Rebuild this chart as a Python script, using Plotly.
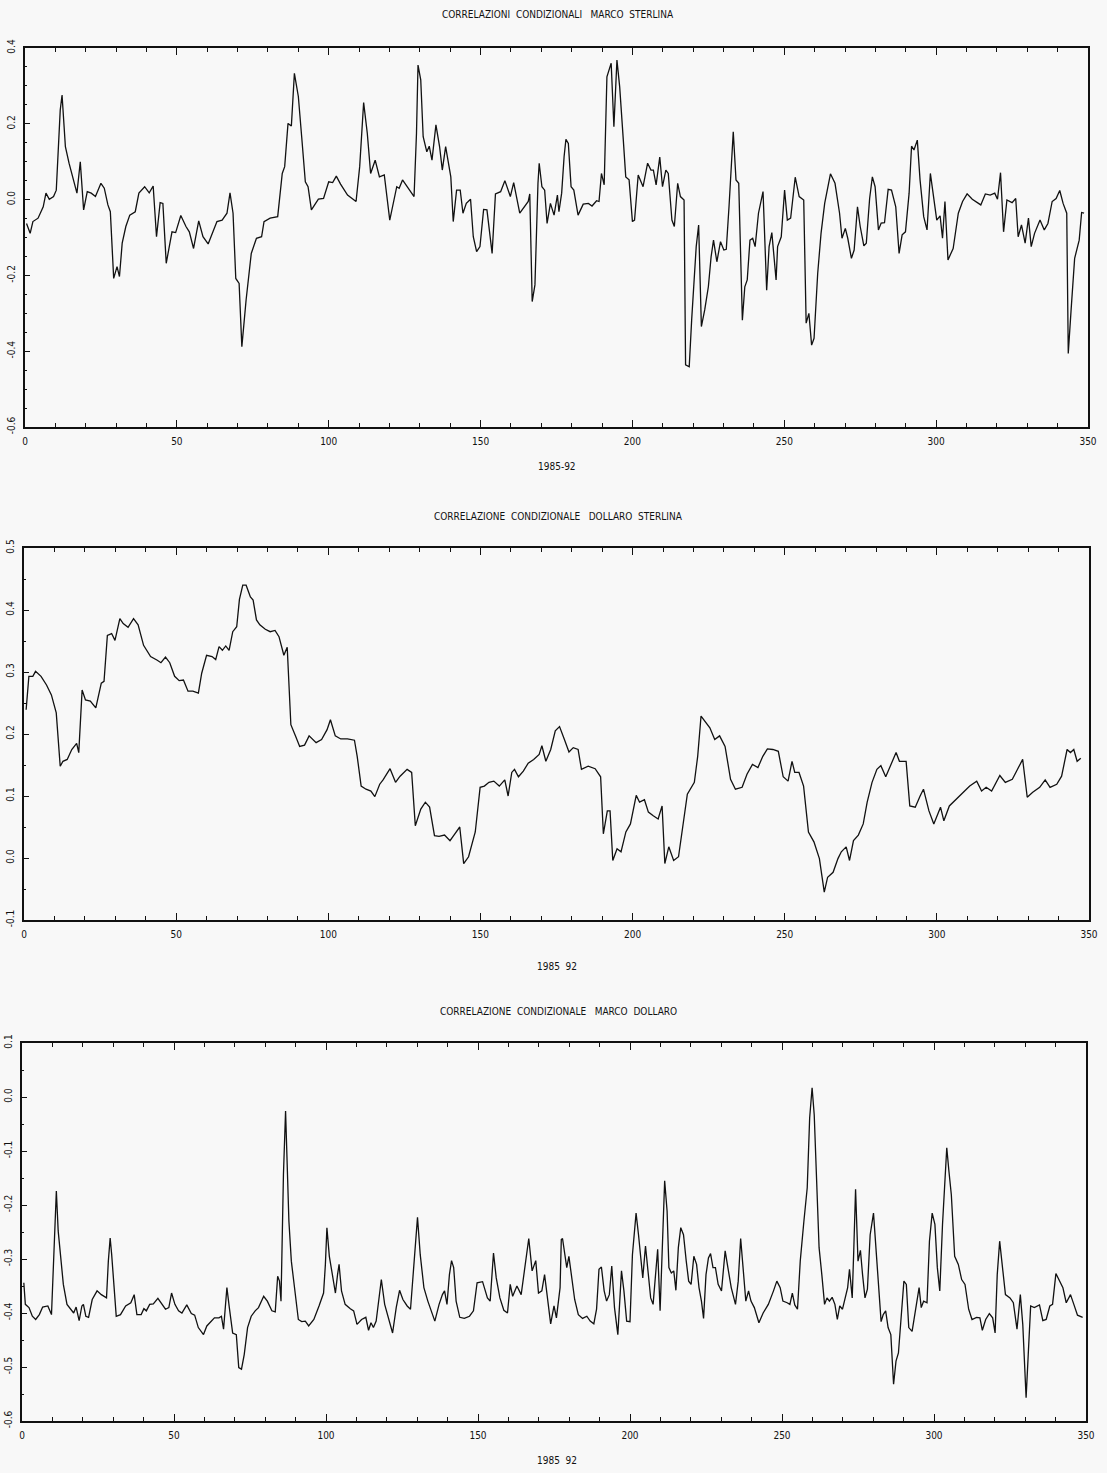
import plotly.graph_objects as go

# ---------------- data ----------------
X_TICKS = [0, 50, 100, 150, 200, 250, 300, 350]
X_TICKTEXT = ["0", "50", "100", "150", "200", "250", "300", "350"]

TITLES = ["CORRELAZIONI  CONDIZIONALI   MARCO  STERLINA",
          "CORRELAZIONE  CONDIZIONALE   DOLLARO  STERLINA",
          "CORRELAZIONE  CONDIZIONALE   MARCO  DOLLARO"]
XLABELS = ["1985-92", "1985  92", "1985  92"]

Y1_TICKS = [0.4, 0.2, 0.0, -0.2, -0.4, -0.6]
Y1_TICKTEXT = ["0.4", "0.2", "0.0", "-0.2", "-0.4", "-0.6"]
Y2_TICKS = [0.5, 0.4, 0.3, 0.2, 0.1, 0.0, -0.1]
Y2_TICKTEXT = ["0.5", "0.4", "0.3", "0.2", "0.1", "0.0", "-0.1"]
Y3_TICKS = [0.1, 0.0, -0.1, -0.2, -0.3, -0.4, -0.5, -0.6]
Y3_TICKTEXT = ["0.1", "0.0", "-0.1", "-0.2", "-0.3", "-0.4", "-0.5", "-0.6"]

# Panel 1: Marco - Sterlina
P1_X = [0.5, 1.7, 2.6, 4.3, 6.0, 6.9, 8.0, 9.4, 10.3, 11.1,
        11.6, 12.2, 12.8, 13.3, 14.5, 15.6, 17.1, 18.2, 19.3, 20.5,
        21.8, 23.2, 25.0, 26.1, 27.3, 28.1, 29.2, 30.3, 31.1, 32.0,
        33.2, 34.5, 36.3, 37.5, 39.4, 40.9, 42.2, 43.3, 44.5, 45.4,
        46.5, 48.4, 49.6, 51.3, 53.0, 54.1, 55.5, 57.2, 58.6, 60.3,
        63.2, 64.9, 66.5, 67.5, 68.5, 69.4, 70.5, 71.4, 72.8, 74.5,
        76.2, 77.9, 78.7, 80.7, 83.2, 84.7, 85.5, 86.6, 87.7, 88.7,
        90.0, 91.1, 92.3, 93.2, 94.3, 96.6, 98.3, 100.0, 101.3, 102.5,
        103.9, 106.2, 109.0, 110.2, 111.5, 112.7, 113.8, 115.3, 116.7, 118.3,
        120.1, 122.4, 123.2, 124.3, 128.1, 128.9, 129.4, 130.3, 131.1, 132.3,
        133.1, 134.0, 135.3, 136.5, 137.4, 138.5, 140.2, 141.0, 142.1, 143.3,
        144.2, 145.3, 146.7, 147.6, 148.7, 149.8, 151.0, 152.1, 153.8, 154.9,
        156.6, 158.0, 159.8, 160.9, 162.9, 165.7, 166.2, 167.0, 167.9, 168.9,
        169.3, 170.2, 171.1, 171.9, 173.0, 174.2, 175.3,
        175.8, 176.7, 177.5, 178.1, 178.9, 179.8, 180.7, 182.1, 183.8, 185.5,
        186.7, 188.2, 189.0, 189.8, 190.7, 191.6, 193.0, 193.9, 194.9, 195.8,
        197.0, 197.8, 198.9, 200.0, 200.7, 201.9, 203.5, 205.0, 206.1, 206.9,
        207.8, 209.0, 209.9, 211.0, 211.8, 213.0, 213.8, 214.9, 215.8, 217.0,
        217.5, 218.7, 219.5, 220.4, 221.0, 221.8, 222.7, 223.8, 225.0, 225.9,
        226.7, 227.8, 229.0, 230.1, 230.9, 231.8, 233.2, 234.1, 235.0, 236.2,
        237.0, 237.8, 238.7, 239.6, 240.4, 241.5, 243.0, 244.2, 245.0, 245.9,
        247.3, 247.8, 249.0, 250.1, 251.0, 252.1, 253.6, 254.9, 256.4, 257.2,
        258.1, 259.0, 259.8, 261.0, 262.1, 263.3, 265.2, 266.7, 268.2, 269.0,
        270.1, 270.9, 272.1, 273.0, 274.1, 275.0, 276.2, 277.0, 278.1, 279.0,
        279.9, 281.0, 281.9, 283.0, 284.2, 285.3, 286.7, 287.8, 288.8, 289.9,
        291.1, 291.9, 292.7, 293.8, 294.7, 295.9, 297.0, 298.1, 299.3, 300.2,
        301.3, 302.1, 302.9, 303.9, 305.6, 307.3, 308.7, 310.2, 311.9, 314.7,
        316.2, 317.8, 319.3, 320.2, 321.2, 322.2, 323.3, 325.0, 326.2, 327.0,
        328.1, 329.3, 330.4, 331.3, 332.4, 334.2, 335.6, 336.8, 338.2, 339.5,
        340.7, 341.8, 343.0, 343.5, 344.5, 345.6, 347.1, 347.9, 348.7]
P1_Y = [-0.063, -0.089, -0.058, -0.049, -0.019, 0.017, 0.001, 0.008, 0.025, 0.184,
        0.236, 0.276, 0.21, 0.14, 0.096, 0.06, 0.017, 0.1, -0.027, 0.021,
        0.017, 0.008, 0.043, 0.03, -0.014, -0.032, -0.208, -0.177, -0.203, -0.115,
        -0.071, -0.041, -0.032, 0.017, 0.034, 0.018, 0.036, -0.098, -0.008, -0.01,
        -0.168, -0.085, -0.087, -0.042, -0.071, -0.085, -0.129, -0.056, -0.098, -0.117,
        -0.058, -0.054, -0.036, 0.018, -0.036, -0.208, -0.221, -0.388, -0.265, -0.142,
        -0.102, -0.098, -0.058, -0.049, -0.045, 0.069, 0.087, 0.201, 0.194, 0.333,
        0.272, 0.166, 0.047, 0.034, -0.027, 0.001, 0.003, 0.047, 0.045, 0.062,
        0.041, 0.012, -0.005, 0.087, 0.256, 0.175, 0.069, 0.104, 0.06, 0.065,
        -0.054, 0.034, 0.03, 0.052, 0.008, 0.175, 0.355, 0.316, 0.166, 0.126,
        0.141, 0.104, 0.197, 0.14, 0.078, 0.14, 0.06, -0.058, 0.025, 0.025,
        -0.036, -0.01, 0.001, -0.098, -0.137, -0.124, -0.026, -0.027, -0.142, 0.015,
        0.021, 0.05, 0.008, 0.045, -0.036, -0.005, 0.015, -0.269, -0.225, 0.043,
        0.096, 0.034, 0.025, -0.063, -0.01, -0.041, 0.012,
        -0.032, 0.017, 0.113, 0.159, 0.148, 0.034, 0.025, -0.041, -0.012, -0.01,
        -0.017, -0.003, -0.005, 0.069, 0.039, 0.324, 0.36, 0.192, 0.368, 0.298,
        0.157, 0.06, 0.052, -0.058, -0.054, 0.065, 0.034, 0.096, 0.078, 0.078,
        0.039, 0.112, 0.034, 0.078, 0.069, -0.054, -0.071, 0.043, 0.008, -0.001,
        -0.436, -0.441, -0.318, -0.212, -0.124, -0.067, -0.335, -0.291, -0.23, -0.151,
        -0.107, -0.164, -0.111, -0.133, -0.131, -0.019, 0.179, 0.052, 0.043, -0.318,
        -0.23, -0.212, -0.107, -0.102, -0.124, -0.036, 0.021, -0.239, -0.124, -0.087,
        -0.212, -0.124, -0.098, 0.025, -0.054, -0.049, 0.059, 0.008, -0.001, -0.326,
        -0.3, -0.384, -0.366, -0.195, -0.089, -0.01, 0.068, 0.043, -0.036, -0.102,
        -0.076, -0.102, -0.155, -0.133, -0.019, -0.071, -0.122, -0.115, 0.003, 0.06,
        0.034, -0.08, -0.062, -0.061, 0.027, 0.025, -0.019, -0.142, -0.093, -0.085,
        0.017, 0.141, 0.131, 0.157, 0.052, -0.045, -0.08, 0.069, -0.001, -0.054,
        -0.043, -0.102, -0.005, -0.159, -0.129, -0.036, -0.005, 0.015, 0.001, -0.014,
        0.015, 0.012, 0.017, 0.001, 0.071, -0.085, -0.001, -0.008, 0.003, -0.098,
        -0.067, -0.115, -0.049, -0.124, -0.089, -0.054, -0.08, -0.063, -0.005, 0.003,
        0.024, -0.01, -0.036, -0.406, -0.283, -0.155, -0.107, -0.034, -0.036]

# Panel 2: Dollaro - Sterlina
P2_X = [0.7, 1.6, 2.9, 3.8, 5.6, 7.4, 9.0, 10.6, 11.9, 12.8,
        14.2, 15.7, 17.3, 18.0, 19.1, 20.2, 21.8, 23.6, 25.4, 26.3,
        27.4, 28.8, 29.9, 31.5, 32.6, 34.2, 36.0, 37.5, 39.3, 41.6,
        43.8, 45.0, 46.5, 47.9, 49.5, 51.0, 52.4, 53.9, 55.5, 57.3,
        58.4, 60.0, 61.8, 63.0, 64.1, 65.2, 66.3, 67.4, 68.6, 69.9,
        70.8, 71.9, 73.0, 74.4, 75.3, 76.4, 77.5, 79.3, 80.9, 82.5,
        83.8, 85.4, 86.5, 87.7, 89.2, 90.6, 92.2, 93.7, 96.0, 97.8,
        99.6, 100.7, 102.3, 104.1, 106.3, 108.6, 109.5, 110.8, 112.4, 114.0,
        115.3, 116.9, 118.0, 120.3, 122.1, 123.6, 125.9, 127.4, 128.6, 130.4,
        131.9, 133.3, 134.9, 136.4, 138.2, 140.0, 141.6, 143.2, 144.5, 146.1,
        148.3, 149.9, 151.3, 152.8, 154.4, 156.2, 158.0, 159.1, 160.3, 161.2,
        162.5, 164.1, 165.7, 167.5, 169.3, 170.2, 171.5, 173.1, 174.6, 176.0,
        177.6, 179.1, 180.5, 182.1, 183.2, 185.4, 187.7, 189.5, 190.4, 191.7,
        192.6, 193.5, 194.9, 196.2, 197.8, 199.3, 201.2, 202.3, 203.9, 205.2,
        206.8, 208.4, 209.7, 210.6, 211.9, 213.5, 215.1, 216.5, 218.0, 220.3,
        221.4, 222.5, 223.6, 225.4, 227.0, 228.6, 230.4, 232.2, 233.8, 236.0,
        237.6, 239.4, 241.2, 242.8, 244.3, 246.1, 247.9, 249.5, 251.1, 252.4,
        253.3, 254.7, 256.2, 257.8, 259.6, 261.4, 263.0, 264.1, 265.9, 267.5,
        268.6, 270.2, 271.3, 272.6, 274.2, 275.8, 277.1, 278.7, 280.3, 281.6,
        283.2, 284.8, 286.6, 287.7, 289.9, 291.1, 292.9, 294.5, 295.6, 297.4,
        299.0, 301.2, 302.3, 304.1, 306.4, 308.6, 310.8, 313.1, 314.7, 316.2,
        318.0, 320.7, 322.5, 324.8, 326.6, 328.2, 329.7, 331.5, 333.8, 335.6,
        337.2, 339.4, 341.0, 342.8, 343.9, 345.0, 346.1, 347.3]
P2_Y = [0.239, 0.293, 0.293, 0.301, 0.293, 0.279, 0.263, 0.234, 0.148, 0.156,
        0.159, 0.175, 0.185, 0.170, 0.271, 0.255, 0.253, 0.242, 0.282, 0.285,
        0.359, 0.362, 0.351, 0.386, 0.378, 0.372, 0.386, 0.376, 0.343, 0.325,
        0.319, 0.315, 0.324, 0.315, 0.293, 0.286, 0.287, 0.269, 0.269, 0.266,
        0.298, 0.327, 0.325, 0.320, 0.341, 0.335, 0.342, 0.335, 0.365, 0.373,
        0.417, 0.440, 0.440, 0.421, 0.416, 0.384, 0.376, 0.369, 0.365, 0.367,
        0.357, 0.327, 0.340, 0.215, 0.197, 0.180, 0.182, 0.197, 0.186, 0.191,
        0.207, 0.223, 0.197, 0.192, 0.192, 0.190, 0.164, 0.116, 0.111, 0.108,
        0.099, 0.119, 0.126, 0.144, 0.122, 0.132, 0.143, 0.138, 0.052, 0.079,
        0.090, 0.082, 0.036, 0.035, 0.037, 0.028, 0.039, 0.050, -0.009, 0.002,
        0.042, 0.114, 0.116, 0.122, 0.124, 0.116, 0.126, 0.100, 0.138, 0.143,
        0.131, 0.140, 0.153, 0.159, 0.167, 0.181, 0.156, 0.175, 0.205, 0.212,
        0.191, 0.171, 0.178, 0.175, 0.143, 0.148, 0.144, 0.131, 0.039, 0.076,
        0.076, -0.004, 0.015, 0.010, 0.042, 0.055, 0.101, 0.090, 0.094, 0.074,
        0.068, 0.063, 0.084, -0.009, 0.018, -0.004, 0.002, 0.047, 0.103, 0.122,
        0.164, 0.229, 0.221, 0.210, 0.191, 0.197, 0.180, 0.127, 0.111, 0.114,
        0.135, 0.151, 0.146, 0.164, 0.176, 0.175, 0.172, 0.131, 0.124, 0.156,
        0.138, 0.138, 0.116, 0.042, 0.026, -0.001, -0.055, -0.031, -0.023, -0.001,
        0.010, 0.018, -0.004, 0.028, 0.037, 0.055, 0.090, 0.122, 0.143, 0.149,
        0.131, 0.149, 0.170, 0.156, 0.156, 0.084, 0.082, 0.100, 0.111, 0.076,
        0.055, 0.082, 0.060, 0.084, 0.095, 0.107, 0.116, 0.124, 0.108, 0.114,
        0.108, 0.133, 0.122, 0.127, 0.143, 0.159, 0.098, 0.106, 0.114, 0.126,
        0.114, 0.119, 0.132, 0.175, 0.170, 0.175, 0.156, 0.161]

# Panel 3: Marco - Dollaro
P3_X = [0.6, 1.1, 2.3, 3.4, 4.5, 5.7, 6.8, 8.5, 9.7, 10.2,
        10.8, 11.3, 11.9, 12.7, 13.6, 14.8, 16.3, 17.0, 17.8, 18.8,
        19.7, 20.2, 21.0, 21.9, 23.1, 24.7, 26.1, 27.8, 28.4, 29.0,
        29.5, 30.3, 31.0, 32.4, 34.1, 35.8, 36.9, 37.8, 39.2, 40.1,
        40.9, 42.0, 43.2, 44.7, 46.0, 47.2, 48.3, 49.2, 50.3, 51.5,
        52.6, 54.2, 55.7, 56.8, 58.0, 59.7, 60.8, 62.2, 63.3, 64.8,
        65.6, 66.3, 67.4, 68.2, 69.3, 70.5, 71.3, 72.2, 73.1, 74.2,
        75.4, 76.7, 77.8, 79.5, 80.7, 82.2, 83.3, 84.1, 84.7, 85.2,
        86.0, 86.7, 87.2, 87.8, 88.6, 89.8, 90.9, 92.0, 93.2, 94.3,
        96.0, 97.7, 99.2, 99.8, 100.3, 101.1, 102.3, 103.1, 103.8, 104.3,
        105.1, 106.3, 108.0, 109.1, 110.2, 111.7, 113.1, 114.0, 114.8, 115.6,
        116.5, 117.4, 118.2, 119.3, 120.8, 121.9, 123.1, 124.2, 125.3, 126.7,
        127.8, 129.0, 130.1, 131.0, 132.2, 133.5, 134.9, 135.8, 137.2, 138.3,
        139.0, 139.8, 140.6, 141.3, 142.0, 142.8, 144.0, 145.5, 147.2, 148.5,
        149.7, 151.5, 153.1, 154.0, 155.1, 156.0, 157.2, 158.5, 159.7, 160.6,
        161.4, 162.8, 164.2, 165.6, 166.7, 167.8, 169.0, 169.9, 171.0, 171.9,
        173.1, 173.9, 175.0, 175.8, 177.0, 177.4,
        177.8, 178.8, 179.2, 179.9, 180.7, 181.8, 183.0, 184.4, 185.8, 186.9,
        188.1, 189.0, 189.8, 190.6, 191.5, 192.3, 193.2, 194.0, 194.9, 196.0,
        197.2, 198.0, 198.9, 200.0, 200.8, 201.5, 202.0, 202.8, 203.4, 204.2,
        205.1, 206.0, 206.8, 207.6, 208.3, 209.1, 209.9, 210.6, 211.4, 212.2,
        212.8, 213.6, 214.4, 215.1, 215.9, 216.7, 217.6, 218.5, 219.3, 220.1,
        221.0, 221.9, 222.7, 223.5, 224.2, 225.0, 225.8, 226.5, 227.3, 228.1,
        229.0, 230.1, 231.3, 232.2, 233.3, 234.7, 235.6, 236.4, 237.2, 238.1,
        239.0, 239.8, 240.9, 242.4, 243.8, 245.5, 247.2, 248.3, 249.4, 250.3,
        251.7, 252.6, 253.4, 254.2, 255.1, 256.0, 257.2, 258.3, 259.1, 259.9,
        260.6, 261.4, 262.2, 263.1, 264.0, 264.8, 265.6, 266.5, 267.4, 268.2,
        269.0, 269.9, 270.8, 271.6, 272.2, 273.1, 273.6, 274.2, 275.0, 275.8,
        276.5, 277.3, 278.1, 279.0, 280.1, 281.0, 281.8, 282.6, 283.3, 284.1,
        284.9, 285.8, 286.7, 287.5, 288.3, 289.0, 290.1, 290.9, 291.7, 292.8,
        294.0, 295.1, 295.8, 296.6, 297.7, 298.5, 299.4, 300.3, 301.1, 301.9,
        302.8, 303.8, 304.2, 304.9, 305.7, 306.8, 308.0, 309.1, 310.2, 311.4,
        312.5, 314.0, 315.1, 315.9, 317.0, 318.2, 319.3, 320.1, 320.8, 321.6,
        322.4, 323.5, 325.0, 326.1, 327.3, 328.4, 329.2, 330.3, 331.0, 331.8,
        333.0, 334.7, 335.8, 336.9, 338.1, 339.0, 340.1, 341.3, 342.4, 343.5,
        344.9, 346.0, 347.2, 348.9]
P3_Y = [-0.344, -0.384, -0.390, -0.406, -0.412, -0.403, -0.389, -0.387, -0.403, -0.329,
        -0.218, -0.174, -0.248, -0.292, -0.347, -0.384, -0.396, -0.400, -0.389, -0.414,
        -0.387, -0.384, -0.406, -0.408, -0.375, -0.359, -0.366, -0.372, -0.304, -0.261,
        -0.292, -0.353, -0.406, -0.403, -0.387, -0.381, -0.366, -0.403, -0.403, -0.392,
        -0.396, -0.384, -0.383, -0.373, -0.383, -0.393, -0.390, -0.363, -0.384, -0.396,
        -0.400, -0.385, -0.401, -0.404, -0.427, -0.440, -0.424, -0.416, -0.409, -0.409,
        -0.406, -0.430, -0.353, -0.390, -0.437, -0.440, -0.501, -0.504, -0.477, -0.427,
        -0.406, -0.396, -0.390, -0.369, -0.378, -0.396, -0.398, -0.332, -0.341, -0.378,
        -0.144, -0.026, -0.131, -0.230, -0.304, -0.359, -0.412, -0.416, -0.415, -0.424,
        -0.412, -0.387, -0.363, -0.310, -0.242, -0.295, -0.341, -0.363, -0.329, -0.310,
        -0.359, -0.384, -0.392, -0.396, -0.421, -0.412, -0.408, -0.432, -0.418, -0.427,
        -0.415, -0.378, -0.338, -0.384, -0.415, -0.437, -0.390, -0.358, -0.375, -0.387,
        -0.393, -0.304, -0.223, -0.292, -0.353, -0.378, -0.403, -0.415, -0.384, -0.366,
        -0.359, -0.384, -0.329, -0.303, -0.316, -0.378, -0.408, -0.410, -0.406, -0.396,
        -0.344, -0.342, -0.372, -0.378, -0.289, -0.335, -0.372, -0.395, -0.400, -0.347,
        -0.369, -0.350, -0.366, -0.304, -0.262, -0.322, -0.303, -0.363, -0.359, -0.329,
        -0.384, -0.420, -0.387, -0.409, -0.353, -0.264,
        -0.262, -0.298, -0.316, -0.295, -0.329, -0.375, -0.403, -0.410, -0.406, -0.415,
        -0.420, -0.393, -0.319, -0.315, -0.359, -0.378, -0.366, -0.313, -0.390, -0.440,
        -0.322, -0.359, -0.415, -0.416, -0.292, -0.242, -0.215, -0.255, -0.292, -0.335,
        -0.276, -0.329, -0.372, -0.384, -0.341, -0.282, -0.396, -0.279, -0.155, -0.211,
        -0.316, -0.326, -0.322, -0.358, -0.279, -0.242, -0.255, -0.304, -0.341, -0.347,
        -0.295, -0.310, -0.353, -0.378, -0.410, -0.329, -0.298, -0.290, -0.316, -0.316,
        -0.347, -0.359, -0.285, -0.316, -0.353, -0.384, -0.341, -0.262, -0.316, -0.378,
        -0.359, -0.378, -0.390, -0.418, -0.400, -0.384, -0.359, -0.341, -0.353, -0.378,
        -0.381, -0.384, -0.363, -0.385, -0.393, -0.304, -0.230, -0.168, -0.039, 0.017,
        -0.033, -0.150, -0.279, -0.329, -0.384, -0.372, -0.378, -0.371, -0.384, -0.412,
        -0.387, -0.393, -0.372, -0.353, -0.319, -0.372, -0.285, -0.171, -0.304, -0.284,
        -0.329, -0.372, -0.356, -0.255, -0.215, -0.285, -0.341, -0.416, -0.403, -0.396,
        -0.427, -0.440, -0.532, -0.489, -0.474, -0.415, -0.341, -0.347, -0.427, -0.434,
        -0.390, -0.353, -0.390, -0.378, -0.381, -0.267, -0.215, -0.236, -0.316, -0.359,
        -0.236, -0.144, -0.094, -0.137, -0.181, -0.295, -0.310, -0.338, -0.347, -0.393,
        -0.412, -0.408, -0.409, -0.432, -0.412, -0.401, -0.409, -0.437, -0.329, -0.267,
        -0.304, -0.366, -0.372, -0.381, -0.430, -0.366, -0.421, -0.557, -0.477, -0.387,
        -0.390, -0.385, -0.414, -0.412, -0.387, -0.384, -0.327, -0.341, -0.353, -0.381,
        -0.366, -0.384, -0.404, -0.408]

# ---------------- figure ----------------
W, H = 1107, 1473
FONT = "Liberation Sans Narrow, DejaVu Sans Condensed, Arial Narrow, sans-serif"
BG = "#f8f8f8"
INK = "#111111"

fig = go.Figure()
series = [(P1_X, P1_Y), (P2_X, P2_Y), (P3_X, P3_Y)]
for i, (xs, ys) in enumerate(series):
    sfx = "" if i == 0 else str(i + 1)
    fig.add_trace(go.Scatter(x=xs, y=ys, mode="lines",
                             line=dict(color=INK, width=1.3),
                             xaxis="x" + sfx, yaxis="y" + sfx,
                             showlegend=False, hoverinfo="skip"))

# panel boxes in pixels: (left, right, top, bottom)
boxes = [(25, 1088, 48, 427), (24, 1089, 548, 920), (22, 1086, 1043, 1421)]
yranges = [(-0.6, 0.4), (-0.1, 0.5), (-0.6, 0.1)]
yticks = [(Y1_TICKS, Y1_TICKTEXT), (Y2_TICKS, Y2_TICKTEXT), (Y3_TICKS, Y3_TICKTEXT)]
title_y = [14, 516, 1012]
xlabel_y = [466, 966, 1460]

layout = dict(width=W, height=H, margin=dict(l=0, r=0, t=0, b=0),
              paper_bgcolor=BG, plot_bgcolor=BG, showlegend=False,
              font=dict(family=FONT, color=INK, size=10))
annotations = []
for i in range(3):
    l, r, t, b = boxes[i]
    sfx = "" if i == 0 else str(i + 1)
    layout["xaxis" + sfx] = dict(
        domain=[l / W, r / W], anchor="y" + sfx, range=[0, 350],
        tickmode="array", tickvals=X_TICKS, ticktext=X_TICKTEXT,
        ticks="inside", ticklen=7, tickwidth=1, tickcolor=INK,
        minor=dict(dtick=10, tick0=0, ticks="inside", ticklen=4, tickcolor=INK, showgrid=False),
        showline=True, linewidth=2, linecolor=INK, mirror="ticks",
        showgrid=False, zeroline=False, automargin=False,
        ticklabelstandoff=4, tickfont=dict(family=FONT, size=10, color=INK))
    tv, tt = yticks[i]
    layout["yaxis" + sfx] = dict(
        domain=[1 - b / H, 1 - t / H], anchor="x" + sfx, range=list(yranges[i]),
        tickmode="array", tickvals=tv, ticktext=tt, tickangle=-90,
        ticks="inside", ticklen=5, tickwidth=1, tickcolor=INK,
        minor=dict(dtick=0.05, ticks="inside", ticklen=2, tickcolor=INK, showgrid=False),
        showline=True, linewidth=2, linecolor=INK, mirror=True,
        showgrid=False, zeroline=False, automargin=False,
        ticklabelstandoff=4, tickfont=dict(family=FONT, size=10, color=INK))
    annotations.append(dict(text=TITLES[i], xref="paper", yref="paper",
                            x=558 / W, y=1 - title_y[i] / H, showarrow=False,
                            xanchor="center", yanchor="middle",
                            font=dict(family=FONT, size=10, color=INK)))
    annotations.append(dict(text=XLABELS[i], xref="paper", yref="paper",
                            x=557 / W, y=1 - xlabel_y[i] / H, showarrow=False,
                            xanchor="center", yanchor="middle",
                            font=dict(family=FONT, size=10, color=INK)))
layout["annotations"] = annotations
fig.update_layout(**layout)

fig.write_html("out.html",
               config={"displayModeBar": False, "staticPlot": True},
               post_script="document.body.style.margin='0';"
                           "document.body.style.background='%s';" % BG)
